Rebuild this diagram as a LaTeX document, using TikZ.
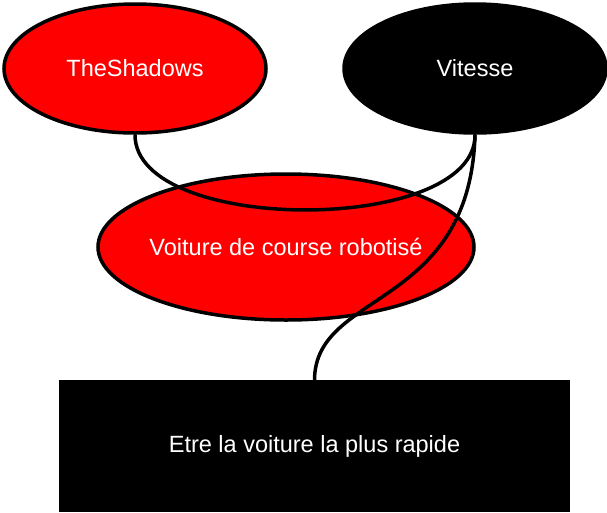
\documentclass[tikz,border=0pt]{standalone}
\usepackage{fontspec}
\setmainfont{Liberation Sans}
\usetikzlibrary{shapes.geometric}
\definecolor{redfill}{RGB}{255,0,0}
\tikzset{
  ell/.style={ellipse, draw=black, line width=3.5pt, text=white, inner sep=0pt,
    font=\fontsize{23.5}{28}\selectfont},
  goalbox/.style={rectangle, fill=black, text=white, inner sep=0pt, outer sep=0pt,
    font=\fontsize{23.5}{28}\selectfont},
  conn/.style={draw=black, line width=3.5pt}
}
\begin{document}
\begin{tikzpicture}[x=1pt,y=-1pt]
\useasboundingbox (0,0) rectangle (607,512);
\node[ell, fill=redfill, minimum width=262pt, minimum height=129pt] (shadows) at (135,68.5) {TheShadows};
\node[ell, fill=black, minimum width=262pt, minimum height=129pt] (vitesse) at (475,68.5) {Vitesse};
\node[ell, fill=redfill, inner xsep=-12pt, minimum width=376pt, minimum height=146pt] (voiture) at (286,247) {Voiture de course robotisé};
\node[goalbox, minimum width=511pt, minimum height=132pt] (goal) at (314.5,446) {Etre la voiture la plus rapide};
\draw[conn] (shadows.south) .. controls (135,235) and (476,235) .. (vitesse.south);
\draw[conn] (vitesse.south) .. controls (470,310) and (315,290) .. (goal.north);
\end{tikzpicture}
\end{document}
